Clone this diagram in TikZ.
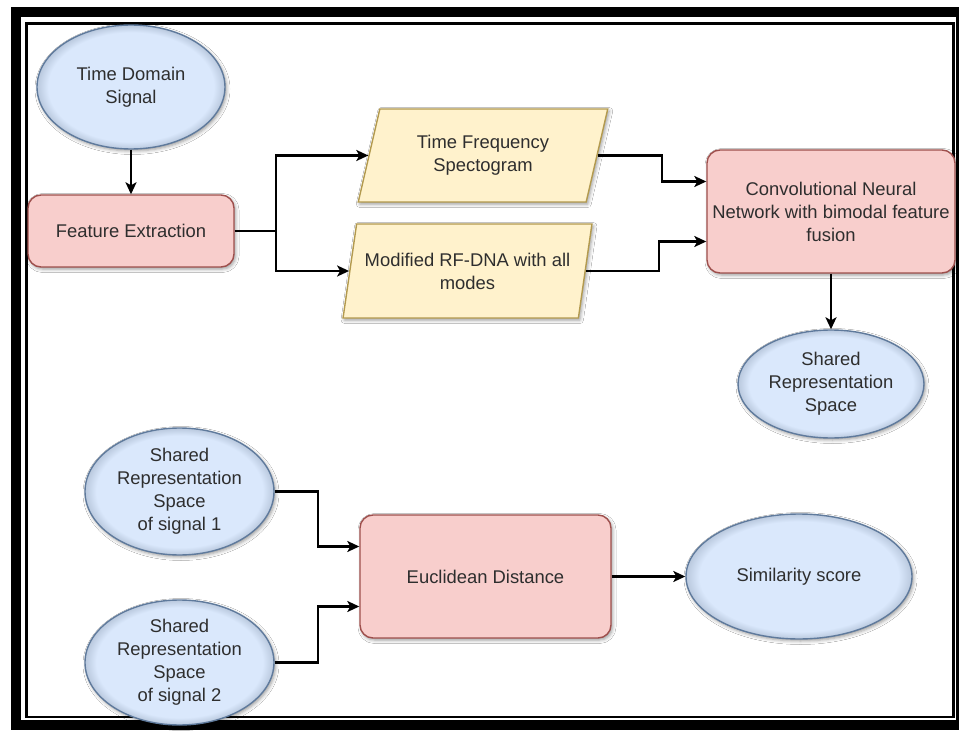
\documentclass[tikz,border=0pt]{standalone}
\usepackage{fontspec}
\setmainfont{Liberation Sans}
\usetikzlibrary{shapes.geometric, arrows.meta, shadows.blur}

\definecolor{ellfill}{HTML}{DAE8FC}
\definecolor{ellrim}{HTML}{B9C8DD}
\definecolor{elldraw}{HTML}{5F7A9C}
\definecolor{boxfill}{HTML}{F8CECC}
\definecolor{boxdraw}{HTML}{9E4F4C}
\definecolor{parafill}{HTML}{FFF2CC}
\definecolor{paradraw}{HTML}{B39A4E}
\definecolor{txt}{HTML}{2E2E2E}

% light fill with a slightly darker rim for the oval nodes
\pgfdeclareradialshading{ellshade}{\pgfpoint{0bp}{0bp}}{%
  color(0bp)=(ellfill); color(22bp)=(ellfill); color(25bp)=(ellrim); color(50bp)=(ellrim)}

\tikzset{
  every node/.style={font=\fontsize{18.4}{23}\selectfont, text=txt, align=center, inner sep=0pt},
  softshadow/.style={blur shadow={shadow xshift=1.5pt, shadow yshift=-2pt,
      shadow blur radius=3.5pt, shadow opacity=40}},
  oval/.style={ellipse, draw=elldraw, line width=1.4pt, shading=ellshade, softshadow},
  procbox/.style={rectangle, rounded corners=13pt, draw=boxdraw, fill=boxfill,
      line width=1.4pt, softshadow},
  databox/.style={trapezium, trapezium left angle=71, trapezium right angle=109,
      trapezium stretches=true, draw=paradraw, fill=parafill, line width=1.4pt, softshadow},
  arr/.style={line width=2.2pt, -{Stealth[length=12pt, width=11pt, inset=3pt]}},
  link/.style={line width=2.2pt},
}

\begin{document}
\begin{tikzpicture}[x=1pt, y=-1pt]
  \useasboundingbox (0,0) rectangle (959,738);
  \clip (0,0) rectangle (959,738);
  \fill[white] (0,0) rectangle (959,738);

  % double frame
  \draw[line width=10.5pt] (16,12) rectangle (961.5,725);
  \draw[line width=2.3pt] (26.5,23.5) rectangle (953.5,717);

  % upper flow
  \node[oval, minimum width=188pt, minimum height=124pt] (tds) at (131,87) {Time Domain\\Signal};
  \node[procbox, minimum width=206pt, minimum height=72pt] (fe) at (131,231) {Feature Extraction};
  \node[databox, minimum width=250pt, minimum height=93pt] (tfs) at (483,155.5) {Time Frequency\\Spectogram};
  \node[databox, minimum width=249pt, minimum height=94pt] (rf) at (467.5,271) {Modified RF-DNA with all\\modes};
  \node[procbox, minimum width=248pt, minimum height=123pt] (cnn) at (831,211.5)
    {Convolutional Neural\\Network with bimodal feature\\fusion};
  \node[oval, minimum width=186pt, minimum height=108pt] (srs) at (831,384) {Shared\\Representation\\Space};

  % lower flow
  \node[oval, minimum width=189pt, minimum height=127pt] (s1) at (179.5,491.5)
    {Shared\\Representation\\Space\\of signal 1};
  \node[oval, minimum width=189pt, minimum height=125pt] (s2) at (179.5,662.5)
    {Shared\\Representation\\Space\\of signal 2};
  \node[procbox, minimum width=251pt, minimum height=123pt] (euc) at (485.5,576.5) {Euclidean Distance};
  \node[oval, minimum width=226pt, minimum height=125pt] (sim) at (799,576.5) {Similarity score};

  % connectors
  \draw[arr] (tds) -- (fe);
  \coordinate (fork) at (276,231);
  \draw[link] (fe.east) -- (fork);
  \draw[arr] (fork) |- (tfs.west);
  \draw[arr] (fork) |- (rf.west);
  \draw[arr] (tfs.east) -- ++(64,0) |- ([yshift=30pt]cnn.west);
  \draw[arr] (rf.east) -- ++(73,0) |- ([yshift=-30pt]cnn.west);
  \draw[arr] (cnn) -- (srs);

  \draw[arr] (s1.east) -- ++(43,0) |- ([yshift=30pt]euc.west);
  \draw[arr] (s2.east) -- ++(43,0) |- ([yshift=-30pt]euc.west);
  \draw[arr] (euc) -- (sim);
\end{tikzpicture}
\end{document}
